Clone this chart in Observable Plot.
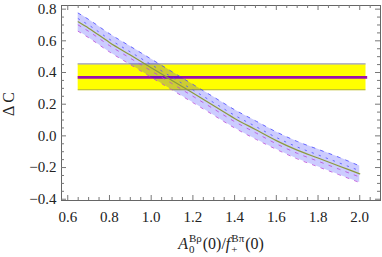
<!DOCTYPE html>
<html><head><meta charset="utf-8">
<script src="https://cdn.jsdelivr.net/npm/d3@7"></script>
<script src="https://cdn.jsdelivr.net/npm/@observablehq/plot@0.6"></script>
<style>body{margin:0;background:#fff}svg{display:block}svg text{font-family:"Liberation Serif","Times New Roman",serif !important}</style>
</head><body><div id="chart"></div>
<script>
// Data
const xs      = [0.65, 0.7, 0.8, 0.9, 1.0, 1.1, 1.2, 1.3, 1.4, 1.5, 1.6, 1.7, 1.8, 1.9, 2.0];
const center  = [0.72, 0.68, 0.59, 0.51, 0.43, 0.35, 0.27, 0.19, 0.11, 0.04, -0.03, -0.09, -0.14, -0.19, -0.24];
const upper   = [0.775, 0.735, 0.645, 0.565, 0.485, 0.405, 0.325, 0.245, 0.165, 0.095, 0.025, -0.035, -0.085, -0.135, -0.19];
const lower   = [0.66, 0.62, 0.53, 0.45, 0.37, 0.29, 0.21, 0.13, 0.05, -0.02, -0.085, -0.145, -0.195, -0.245, -0.295];
const innerUp = [0.74, 0.70, 0.61, 0.53, 0.45, 0.37, 0.29, 0.21, 0.13, 0.06, -0.01, -0.07, -0.12, -0.17, -0.22];
const innerLo = [0.70, 0.66, 0.57, 0.49, 0.41, 0.33, 0.25, 0.17, 0.09, 0.02, -0.05, -0.11, -0.16, -0.21, -0.26];
const expX    = [0.65, 2.03];
const expY    = [0.291, 0.454];
const expMid  = 0.369;
const xTicks  = [0.6, 0.8, 1.0, 1.2, 1.4, 1.6, 1.8, 2.0];
const yTicks  = [-0.4, -0.2, 0.0, 0.2, 0.4, 0.6, 0.8];
const xDomain = [0.570, 2.0995];
const yDomain = [-0.408, 0.823];

const W = 382, H = 257, mL = 61, mR = 2, mT = 5, mB = 57;
const fw = W - mL - mR, fh = H - mT - mB;
const rows = xs.map((x, i) => ({x, c: center[i], u: upper[i], l: lower[i], iu: innerUp[i], il: innerLo[i]}));
const xMinor = d3.range(0.6, 2.1, 0.05).map(v => +v.toFixed(2)).filter(v => !xTicks.some(t => Math.abs(t - v) < 1e-6));
const yMinor = d3.range(-0.4, 0.82, 0.05).map(v => +v.toFixed(2)).filter(v => !yTicks.some(t => Math.abs(t - v) < 1e-6));
const fmt = d => (d < 0 ? "\u2212" : "") + Math.abs(d).toFixed(1);
const tickC = "#777";
const font = "Liberation Serif";

const plot = Plot.plot({
  width: W, height: H,
  marginLeft: mL, marginRight: mR, marginTop: mT, marginBottom: mB,
  style: {fontFamily: font, fontSize: "14px", color: "#222", background: "#fff"},
  x: {domain: xDomain},
  y: {domain: yDomain},
  marks: [
    Plot.rect([0], {x1: expX[0], x2: expX[1], y1: expY[0], y2: expY[1], fill: "#ffff00"}),
    Plot.ruleY([expY[1]], {x1: expX[0], x2: expX[1], stroke: "#9a9ae6", strokeWidth: 1.2}),
    Plot.ruleY([expY[0]], {x1: expX[0], x2: expX[1], stroke: "#b0b000", strokeWidth: 1.2}),
    Plot.ruleY([expMid], {x1: expX[0], x2: expX[1] + 0.008, stroke: "#9c10ac", strokeWidth: 2.6}),
    Plot.areaY(rows, {x: "x", y1: "l", y2: "u", fill: "#0000ff", fillOpacity: 0.2, curve: "monotone-x"}),
    Plot.line(rows, {x: "x", y: "u", stroke: "#4848ff", strokeOpacity: 0.8, strokeWidth: 1, strokeDasharray: "3,6", curve: "monotone-x"}),
    Plot.line(rows, {x: "x", y: "iu", stroke: "#5050ff", strokeOpacity: 0.8, strokeWidth: 1, strokeDasharray: "1.5,6", curve: "monotone-x"}),
    Plot.line(rows, {x: "x", y: "c", stroke: "#8c9a3c", strokeWidth: 1.2, curve: "monotone-x"}),
    Plot.line(rows, {x: "x", y: "il", stroke: "#b848d8", strokeOpacity: 0.8, strokeWidth: 1, strokeDasharray: "3,6", curve: "monotone-x"}),
    Plot.line(rows, {x: "x", y: "l", stroke: "#b848d8", strokeOpacity: 0.8, strokeWidth: 1, strokeDasharray: "3,6", curve: "monotone-x"}),
    Plot.frame({stroke: "#666", strokeWidth: 1}),
    // ticks pointing inward on all four sides
    Plot.ruleX(xTicks, {x: d => d, insetTop: fh - 5, stroke: tickC}),
    Plot.ruleX(xTicks, {x: d => d, insetBottom: fh - 5, stroke: tickC}),
    Plot.ruleX(xMinor, {x: d => d, insetTop: fh - 3, stroke: tickC}),
    Plot.ruleX(xMinor, {x: d => d, insetBottom: fh - 3, stroke: tickC}),
    Plot.ruleY(yTicks, {y: d => d, insetRight: fw - 5, stroke: tickC}),
    Plot.ruleY(yTicks, {y: d => d, insetLeft: fw - 5, stroke: tickC}),
    Plot.ruleY(yMinor, {y: d => d, insetRight: fw - 3, stroke: tickC}),
    Plot.ruleY(yMinor, {y: d => d, insetLeft: fw - 3, stroke: tickC}),
    Plot.axisX(xTicks, {tickSize: 0, tickPadding: 11, tickFormat: fmt, label: null, fontSize: 15}),
    Plot.axisY(yTicks, {tickSize: 0, tickPadding: 5, tickFormat: fmt, label: null, fontSize: 15})
  ]
});
document.getElementById("chart").appendChild(plot);

// Axis titles with sub/superscripts
const svg = d3.select(plot);
const g = svg.append("g").attr("font-family", font).attr("fill", "#222").attr("text-anchor", "start");
const pieces = [
  {t: "A", s: 16, it: true, dy: 0},
  {t: "B\u03C1", s: 11, dy: -7},
  {t: "0", s: 11, dy: 4, stack: true},
  {t: "(0)/", s: 16, dy: 0},
  {t: "f", s: 16, it: true, dy: 0},
  {t: "B\u03C0", s: 11, dy: -7},
  {t: "+", s: 11, dy: 4, stack: true},
  {t: "(0)", s: 16, dy: 0}
];
let cx = 0, prevX = 0, prevW = 0;
const els = [];
for (const p of pieces) {
  const el = g.append("text").attr("text-anchor", "start").text(p.t).attr("font-size", p.s).attr("font-style", p.it ? "italic" : null);
  const w = el.node().getComputedTextLength();
  let x;
  if (p.stack) { x = prevX; cx = Math.max(prevX + prevW, prevX + w) + 1; }
  else { x = cx; cx = x + w + (p.it ? 1 : 0); }
  prevX = x; prevW = w;
  els.push({el, x, dy: p.dy});
}
const total = cx, baseX = 221 - total / 2, baseY = 249;
for (const e of els) e.el.attr("x", baseX + e.x).attr("y", baseY + e.dy);

svg.append("text").attr("font-family", font).attr("font-size", 16).attr("fill", "#222")
  .attr("text-anchor", "middle")
  .attr("transform", "translate(14,104) rotate(-90)")
  .text("\u0394 C");
</script></body></html>
